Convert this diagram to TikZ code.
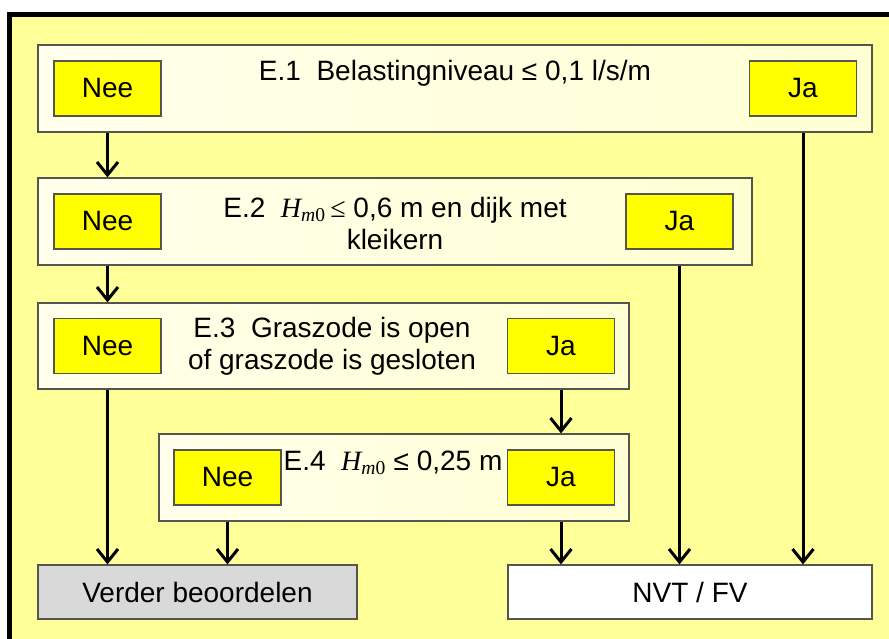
\documentclass[tikz,border=0pt]{standalone}
\usepackage{fontspec}
\setmainfont{Liberation Sans}
\newfontfamily\tijdfont{Liberation Serif}
\usetikzlibrary{arrows.meta}
\definecolor{achtergrond}{RGB}{255,255,153}
\definecolor{room}{RGB}{255,255,212}
\definecolor{knopgeel}{RGB}{255,255,0}
\definecolor{rand}{RGB}{85,85,75}
\definecolor{grijs}{RGB}{217,217,217}
\newcommand{\hmnul}{{\tijdfont\itshape H}\textsubscript{\tijdfont\itshape m\upshape 0}}

\begin{document}
\begin{tikzpicture}
[x=1pt,y=-1pt,line width=1.2pt,
 font=\fontsize{28}{32}\selectfont,
 vraag/.style={draw=rand,left color=white!55!room,right color=room,inner sep=0pt},
 knop/.style={draw=rand,fill=knopgeel,minimum width=107pt,minimum height=55pt,inner sep=0pt},
 eind/.style={draw=rand,minimum height=54pt,inner sep=0pt},
 pijl/.style={line width=3pt,-{Straight Barb[length=13pt,width=21pt]}}]

\clip (0,0) rectangle (889,639);
\draw[line width=5pt,fill=achtergrond] (9.5,15) rectangle (905,660); %frame

\node[vraag,minimum width=834pt,minimum height=87pt] (e1) at (455,88.5) {};
\node[vraag,minimum width=714pt,minimum height=87pt] (e2) at (395,221.5) {};
\node[vraag,minimum width=591pt,minimum height=86pt] (e3) at (333.5,346) {};
\node[vraag,minimum width=470pt,minimum height=87pt] (e4) at (394,477.5) {};

\node (t1) at (455,73) {E.1\ \ Belastingniveau ≤ 0,1 l/s/m};
\node[align=center] (t2) at (395,223) {E.2\ \ \hmnul\,{\tijdfont ≤} 0,6 m en dijk met\\kleikern};
\node[align=center] (t3) at (332,346) {E.3\ \ Graszode is open\\of graszode is gesloten};
\node (t4) at (393,463) {E.4\ \ \hmnul\ ≤ 0,25 m};

\node[knop] (nee1) at (107.5,88.5) {Nee};
\node[knop] (ja1) at (803,88.5) {Ja};
\node[knop] (nee2) at (107.5,221.5) {Nee};
\node[knop] (ja2) at (679.5,221.5) {Ja};
\node[knop] (nee3) at (107.5,346) {Nee};
\node[knop] (ja3) at (561,346) {Ja};
\node[knop] (nee4) at (227.5,477.5) {Nee};
\node[knop] (ja4) at (561,477.5) {Ja};

\node[eind,fill=grijs,minimum width=319pt] (verder) at (197.5,592) {Verder beoordelen};
\node[eind,fill=white,minimum width=364pt] (nvt) at (690,592) {NVT / FV};

\draw[pijl] (nee1 |- e1.south) -- (nee1 |- e2.north);
\draw[pijl] (nee2 |- e2.south) -- (nee2 |- e3.north);
\draw[pijl] (nee3 |- e3.south) -- (nee3 |- verder.north);
\draw[pijl] (nee4 |- e4.south) -- (nee4 |- verder.north);
\draw[pijl] (ja3 |- e3.south) -- (ja3 |- e4.north);
\draw[pijl] (ja4 |- e4.south) -- (ja4 |- nvt.north);
\draw[pijl] (ja2 |- e2.south) -- (ja2 |- nvt.north);
\draw[pijl] (ja1 |- e1.south) -- (ja1 |- nvt.north);
\end{tikzpicture}
\end{document}
